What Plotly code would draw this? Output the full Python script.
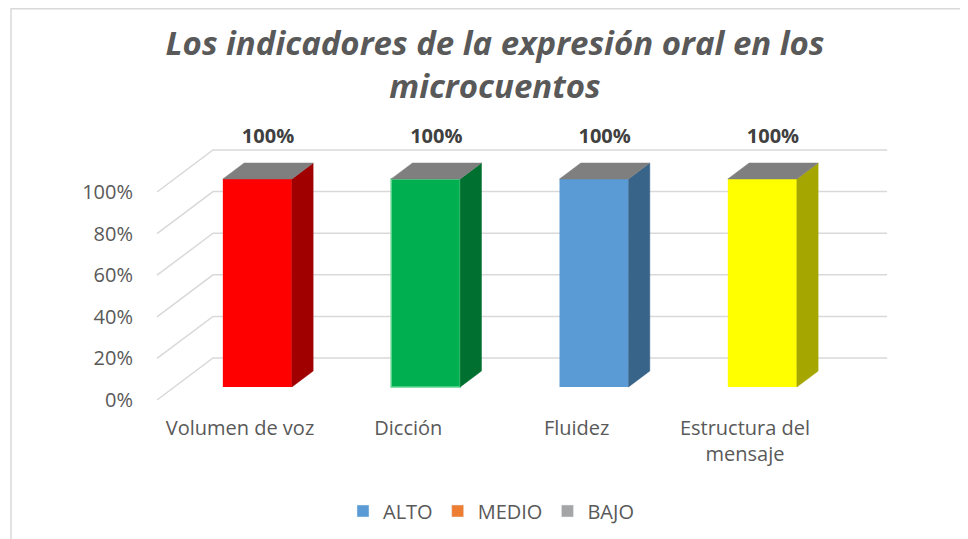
import plotly.graph_objects as go

# ---------------- data ----------------
categories = ["Volumen de voz", "Dicción", "Fluidez", "Estructura del mensaje"]
category_tick_text = ["Volumen de voz", "Dicción", "Fluidez", "Estructura del<br>mensaje"]
values = [100, 100, 100, 100]
data_labels = ["100%", "100%", "100%", "100%"]
y_ticks = [0, 20, 40, 60, 80, 100]
y_tick_text = ["0%", "20%", "40%", "60%", "80%", "100%"]
front_colors = ["#FF0000", "#00B050", "#5B9BD5", "#FFFF00"]
outline_colors = ["#FF0000", "#5ED68E", "#5B9BD5", "#FFFF00"]
outline_widths = [0, 1.5, 0, 0]
side_colors = ["#A00000", "#007030", "#38648A", "#A6A600"]
top_color = "#7F7F7F"
legend_names = ["ALTO", "MEDIO", "BAJO"]
legend_colors = ["#5B9BD5", "#ED7D31", "#A5A5A5"]
title_text = "Los indicadores de la expresión oral en los<br>microcuentos"

# ---------------- 3D geometry (axis units) ----------------
DEPTH_X = 0.3327     # horizontal shift of full depth (category units)
DEPTH_Y = 20.19      # vertical shift of full depth (percent units)
BAR_FRONT = 0.31     # depth fraction of bar front face
BAR_BACK = 0.69      # depth fraction of bar back face
HALF_W = 0.205       # half bar width
GRID_X0 = -0.493     # front-left end of gridlines
GRID_X1 = 3.844      # back-right end of gridlines
LABEL_PAD = 12.0     # data label distance above bar top

GRID_COLOR = "#D9D9D9"
TEXT_COLOR = "#595959"
FONT = "'Open Sans', Lato, sans-serif"

idx = list(range(len(categories)))

fig = go.Figure()

# front faces as bars
fig.add_trace(go.Bar(
    x=[i + BAR_FRONT * DEPTH_X for i in idx],
    y=values,
    base=BAR_FRONT * DEPTH_Y,
    width=2 * HALF_W,
    marker=dict(color=front_colors,
                line=dict(width=outline_widths, color=outline_colors)),
    showlegend=False,
    hoverinfo="skip",
))

# side and top faces
for i, v in zip(idx, values):
    xl_f = i + BAR_FRONT * DEPTH_X - HALF_W
    xr_f = i + BAR_FRONT * DEPTH_X + HALF_W
    xl_b = i + BAR_BACK * DEPTH_X - HALF_W
    xr_b = i + BAR_BACK * DEPTH_X + HALF_W
    b_f = BAR_FRONT * DEPTH_Y
    b_b = BAR_BACK * DEPTH_Y
    fig.add_trace(go.Scatter(
        x=[xr_f, xr_f, xr_b, xr_b, xr_f],
        y=[b_f, b_f + v, b_b + v, b_b, b_f],
        mode="lines", fill="toself", fillcolor=side_colors[i],
        line=dict(width=0.5, color=side_colors[i]),
        showlegend=False, hoverinfo="skip",
    ))
    fig.add_trace(go.Scatter(
        x=[xl_f, xr_f, xr_b, xl_b, xl_f],
        y=[b_f + v, b_f + v, b_b + v, b_b + v, b_f + v],
        mode="lines", fill="toself", fillcolor=top_color,
        line=dict(width=0.5, color=top_color),
        showlegend=False, hoverinfo="skip",
    ))

# data labels
fig.add_trace(go.Scatter(
    x=[i + 0.5 * (BAR_FRONT + BAR_BACK) * DEPTH_X for i in idx],
    y=[v + BAR_BACK * DEPTH_Y + LABEL_PAD for v in values],
    mode="text", text=data_labels, textposition="middle center",
    textfont=dict(family=FONT, size=20, color="#404040", weight="bold"),
    showlegend=False, hoverinfo="skip",
))

# legend entries
for name, col in zip(legend_names, legend_colors):
    fig.add_trace(go.Bar(x=[None], y=[None], name=name, marker_color=col))

# gridlines (floor diagonal + back wall)
shapes = []
for t in y_ticks:
    path = "M {},{} L {},{} L {},{}".format(
        GRID_X0, t, GRID_X0 + DEPTH_X, t + DEPTH_Y, GRID_X1, t + DEPTH_Y)
    shapes.append(dict(type="path", path=path, xref="x", yref="y",
                       line=dict(color=GRID_COLOR, width=1.5), layer="below"))

# page offset (default body margin of the html page)
OFF = 8
W, H = 968 - OFF, 539 - OFF
L, R, T, B = 140 - OFF, 968 - 900, 120 - OFF, 539 - 410
pw, ph = W - L - R, H - T - B

# outer chart border (light frame)
shapes.append(dict(type="rect", xref="paper", yref="paper",
                   x0=(11 - OFF - L) / pw, x1=(W + 20 - L) / pw,
                   y0=(T + ph - H - 20) / ph, y1=(T + ph - 0.8) / ph,
                   line=dict(color=GRID_COLOR, width=1.5), layer="below"))

fig.update_layout(
    width=W, height=H,
    autosize=False,
    margin=dict(l=L, r=R, t=T, b=B, autoexpand=False),
    paper_bgcolor="white", plot_bgcolor="white",
    barmode="overlay",
    shapes=shapes,
    title=dict(
        text="<b><i>" + title_text + "</i></b>",
        font=dict(family=FONT, size=33, color=TEXT_COLOR),
        x=(495 - OFF) / W, xanchor="center", xref="container",
        y=1 - 47 / H, yanchor="top", yref="container",
    ),
    xaxis=dict(
        range=[-100 / 168.33, 660 / 168.33],
        tickvals=idx, ticktext=category_tick_text, tickangle=0,
        showgrid=False, zeroline=False, showline=False, ticks="",
        tickfont=dict(family=FONT, size=20, color=TEXT_COLOR),
        ticklabelstandoff=4,
        automargin=False, fixedrange=True,
    ),
    yaxis=dict(
        range=[-10 / 2.08, 280 / 2.08],
        tickvals=y_ticks, ticktext=y_tick_text,
        showgrid=False, zeroline=False, showline=False, ticks="",
        tickfont=dict(family=FONT, size=20, color=TEXT_COLOR),
        ticklabelstandoff=6,
        automargin=False, fixedrange=True,
    ),
    legend=dict(
        orientation="h", x=(491 - OFF - L) / pw, xanchor="center",
        y=(T + ph - (511 - OFF)) / ph, yanchor="middle",
        font=dict(family=FONT, size=20, color=TEXT_COLOR),
        bgcolor="rgba(0,0,0,0)",
    ),
)

fig.write_html("out.html")
